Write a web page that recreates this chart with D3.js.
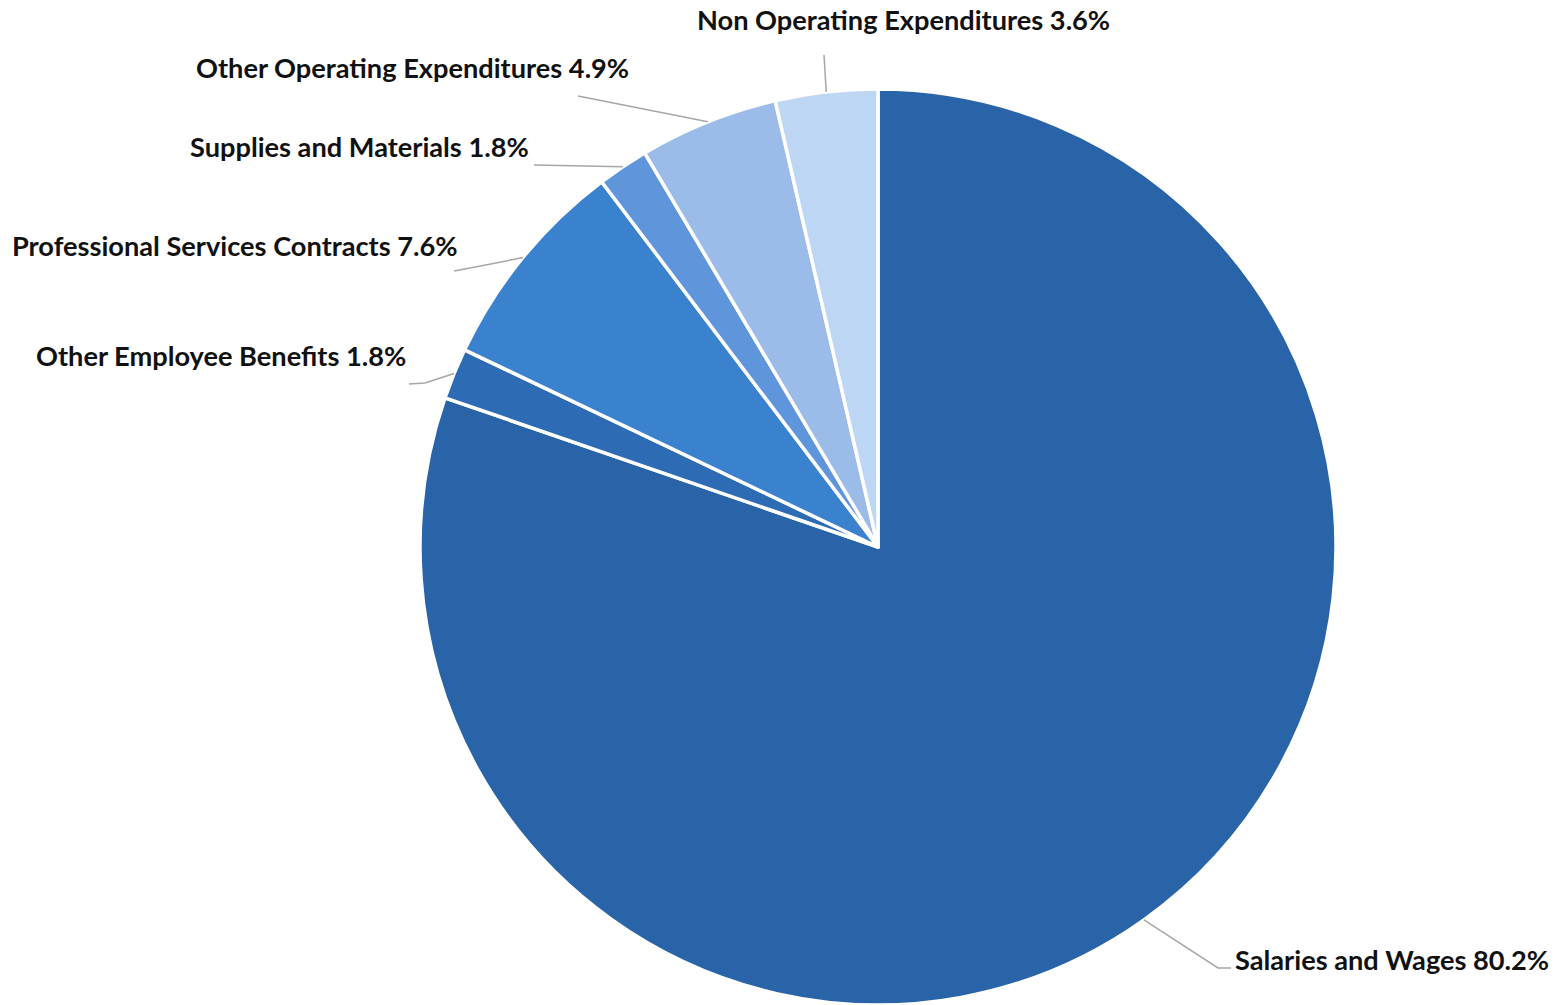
<!DOCTYPE html>
<html>
<head>
<meta charset="utf-8">
<script src="https://cdn.jsdelivr.net/npm/d3@7"></script>
<style>
  html, body { margin: 0; padding: 0; background: #ffffff; }
  svg { display: block; }
  .label { font-family: Lato, "Open Sans", sans-serif; font-weight: 700; font-size: 27.2px; fill: #111111; }
</style>
</head>
<body>
<svg id="chart" width="1561" height="1005"></svg>
<script>
// Expenditure categories, in clockwise order from 12 o'clock
const categories = [
  "Salaries and Wages",
  "Other Employee Benefits",
  "Professional Services Contracts",
  "Supplies and Materials",
  "Other Operating Expenditures",
  "Non Operating Expenditures"
];
const shares = [80.2, 1.8, 7.6, 1.8, 4.9, 3.6];
const valueLabels = ["80.2%", "1.8%", "7.6%", "1.8%", "4.9%", "3.6%"];
const colors = ["#2a64a8", "#2d6cb5", "#3a82cd", "#5f95da", "#9bbbe9", "#bdd6f4"];

// Label placement: text start (x, baseline y) and the leader path from the slice edge
const labelLayout = [
  { x: 1235, y: 970, bend: [[1218, 968], [1231, 968]] },
  { x: 36,   y: 366, bend: [[425, 383], [409, 384]] },
  { x: 12,   y: 256, bend: [[470, 268], [454, 271]] },
  { x: 190,  y: 157, bend: [[534, 165]] },
  { x: 196,  y: 78,  bend: [[578, 96]] },
  { x: 697,  y: 30,  bend: [[824, 55]] }
];

const cx = 878, cy = 547, radius = 458;
const svg = d3.select("#chart");
const g = svg.append("g").attr("transform", `translate(${cx},${cy})`);

const data = categories.map((name, i) => ({ name, value: shares[i], label: valueLabels[i], i }));

const pie = d3.pie().value(d => d.value).sort(null);
const arc = d3.arc().innerRadius(0).outerRadius(radius);
const edge = d3.arc().innerRadius(radius).outerRadius(radius);

const arcs = pie(data);

g.selectAll("path.slice")
  .data(arcs)
  .join("path")
  .attr("class", "slice")
  .attr("d", arc)
  .attr("fill", d => colors[d.data.i])
  .attr("stroke", "#ffffff")
  .attr("stroke-width", 3.5)
  .attr("stroke-linejoin", "round");

// Leader lines
const line = d3.line();
svg.selectAll("path.leader")
  .data(arcs)
  .join("path")
  .attr("class", "leader")
  .attr("d", d => {
    const [ex, ey] = edge.centroid(d);
    const pts = [[cx + ex, cy + ey]].concat(labelLayout[d.data.i].bend);
    return line(pts);
  })
  .attr("fill", "none")
  .attr("stroke", "#a6a6a6")
  .attr("stroke-width", 1.5);

// Labels
svg.selectAll("text.label")
  .data(arcs)
  .join("text")
  .attr("class", "label")
  .attr("x", d => labelLayout[d.data.i].x)
  .attr("y", d => labelLayout[d.data.i].y)
  .text(d => `${d.data.name} ${d.data.label}`);
</script>
</body>
</html>
